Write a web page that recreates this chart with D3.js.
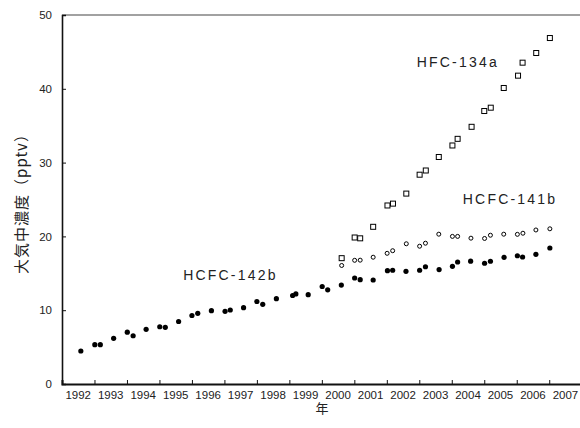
<!DOCTYPE html>
<html>
<head>
<meta charset="utf-8">
<script src="https://cdn.jsdelivr.net/npm/d3@7"></script>
<style>
  body { margin:0; background:#fff; }
  svg text { font-family: "Liberation Sans", Arial, sans-serif; fill:#222; }
</style>
</head>
<body>
<svg id="chart" width="580" height="428"></svg>
<script>
// HCFC-142b (filled dots): [year, pptv]
const hcfc142b = [
  [1992.58,4.47],[1993.01,5.33],[1993.18,5.33],[1993.59,6.19],[1994.01,7.02],[1994.19,6.54],
  [1994.59,7.41],[1995.01,7.76],[1995.18,7.68],[1995.59,8.47],[1996.00,9.28],[1996.18,9.58],
  [1996.60,9.93],[1997.02,9.85],[1997.18,10.03],[1997.59,10.34],[1998.00,11.18],[1998.18,10.80],
  [1998.60,11.56],[1999.10,11.99],[1999.20,12.20],[1999.58,12.10],[2000.01,13.21],[2000.18,12.76],
  [2000.60,13.41],[2001.01,14.36],[2001.18,14.13],[2001.58,14.09],[2002.02,15.35],[2002.18,15.41],
  [2002.59,15.27],[2003.01,15.41],[2003.19,15.89],[2003.61,15.51],[2004.02,15.95],[2004.18,16.53],
  [2004.58,16.64],[2005.01,16.36],[2005.19,16.63],[2005.61,17.17],[2006.02,17.38],[2006.18,17.21],
  [2006.59,17.57],[2007.02,18.43]
];
// HCFC-141b (open circles)
const hcfc141b = [
  [2000.61,16.06],[2001.01,16.76],[2001.18,16.78],[2001.58,17.18],[2002.01,17.71],[2002.18,18.06],
  [2002.60,19.00],[2003.01,18.67],[2003.19,19.08],[2003.60,20.30],[2004.02,20.00],[2004.18,20.00],
  [2004.59,19.76],[2005.01,19.72],[2005.19,20.16],[2005.60,20.30],[2006.02,20.28],[2006.19,20.43],
  [2006.59,20.87],[2007.02,21.03]
];
// HFC-134a (open squares)
const hfc134a = [
  [2000.61,17.05],[2001.01,19.85],[2001.18,19.74],[2001.58,21.30],[2002.02,24.19],[2002.19,24.44],
  [2002.60,25.80],[2003.01,28.36],[2003.20,28.93],[2003.60,30.76],[2004.02,32.32],[2004.18,33.22],
  [2004.61,34.85],[2005.00,36.99],[2005.20,37.44],[2005.60,40.11],[2006.04,41.78],[2006.18,43.54],
  [2006.60,44.85],[2007.02,46.88]
];
const yearLabels = d3.range(1992, 2008);   // 1992 … 2007, centred in each year
const yTicks = [0,10,20,30,40,50];
const seriesLabels = [
  {name:"HFC-134a",  year:2002.92, v:42.9},
  {name:"HCFC-141b", year:2004.34, v:24.4},
  {name:"HCFC-142b", year:1995.73, v:14.1}
];

const svg = d3.select("#chart");
const x = d3.scaleLinear().domain([1992, 2008]).range([62, 581.7]);
const y = d3.scaleLinear().domain([0, 50]).range([384, 15]);

// frame: top line
svg.append("line").attr("x1",62).attr("x2",580).attr("y1",y(50)).attr("y2",y(50))
  .attr("stroke","#444").attr("stroke-width",1.2);

// y axis
const gy = svg.append("g").attr("transform","translate(62,0)")
  .call(d3.axisLeft(y).tickValues(yTicks).tickSize(-4).tickPadding(10));
gy.select(".domain").attr("stroke","#111").attr("stroke-width",1.6);
gy.selectAll(".tick line").attr("stroke","#111");
gy.selectAll(".tick text").attr("font-size",11.5).attr("fill","#222")
  .attr("font-family","Liberation Sans, Arial, sans-serif");

// x axis: ticks at year boundaries, labels centred in each year
const gx = svg.append("g").attr("transform",`translate(0,${y(0)})`)
  .call(d3.axisBottom(x).tickValues(d3.range(1993, 2008)).tickSize(-4).tickFormat(""));
gx.select(".domain").attr("stroke","#111").attr("stroke-width",2);
gx.selectAll(".tick line").attr("stroke","#111");
svg.append("g").selectAll("text").data(yearLabels).join("text")
  .attr("x", d => x(d + 0.5)).attr("y", 399)
  .attr("text-anchor","middle").attr("font-size",11.5).text(d => d);

// axis titles
svg.append("text").attr("x",322).attr("y",413).attr("text-anchor","middle")
  .attr("font-size",13).style("font-family","'Noto Sans CJK JP', sans-serif").text("年");
svg.append("text").attr("transform","translate(27,200) rotate(-90)").attr("text-anchor","middle")
  .attr("font-size",15).attr("letter-spacing",1).style("font-family","'Noto Sans CJK JP', sans-serif")
  .text("大気中濃度（pptv）");

// marks
svg.append("g").selectAll("circle").data(hcfc142b).join("circle")
  .attr("cx", d => x(d[0])).attr("cy", d => y(d[1])).attr("r",2.6).attr("fill","#000");
svg.append("g").selectAll("circle").data(hcfc141b).join("circle")
  .attr("cx", d => x(d[0])).attr("cy", d => y(d[1])).attr("r",2)
  .attr("fill","#fff").attr("stroke","#000").attr("stroke-width",1);
svg.append("g").selectAll("rect").data(hfc134a).join("rect")
  .attr("x", d => x(d[0]) - 2.5).attr("y", d => y(d[1]) - 2.5).attr("width",5).attr("height",5)
  .attr("fill","#fff").attr("stroke","#000").attr("stroke-width",1);

// series labels
svg.append("g").selectAll("text").data(seriesLabels).join("text")
  .attr("x", d => x(d.year)).attr("y", d => y(d.v))
  .attr("font-size",14).attr("letter-spacing",2.2).text(d => d.name);
</script>
</body>
</html>
